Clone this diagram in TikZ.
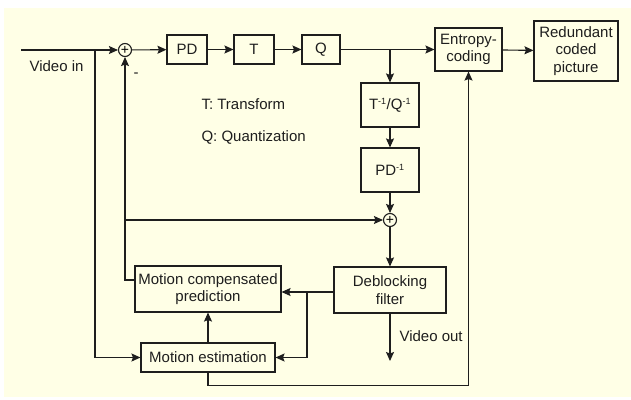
\documentclass[tikz,border=0pt]{standalone}
\usepackage{fontspec}
\setmainfont{Liberation Sans}
\usepackage{xcolor}
\usepackage{tikz}
\usetikzlibrary{arrows.meta,positioning}
\definecolor{paperyellow}{HTML}{FFFFE6}
\definecolor{inkgray}{HTML}{1E1E1E}
\newcommand{\inv}[1]{#1\textsuperscript{\fontsize{9}{9}\selectfont -1}}

\begin{document}
\begin{tikzpicture}[x=1pt,y=-1pt,
    block/.style={rectangle, draw=inkgray, line width=1.1pt, fill=paperyellow,
                  inner sep=0pt, align=center, text=inkgray,
                  font=\fontsize{15}{17.5}\selectfont},
    summer/.style={circle, draw=inkgray, line width=1.1pt, fill=paperyellow,
                   minimum size=13pt, inner sep=0pt, font=\fontsize{14}{14}\selectfont},
    arr/.style={-{Stealth[length=9pt,width=8pt,inset=1.5pt]}, line width=1.1pt, inkgray},
    note/.style={font=\fontsize{15}{17.5}\selectfont, text=inkgray}
]
\useasboundingbox (0,0) rectangle (631,399);
\fill[paperyellow] (4,8) rectangle (631,397);

\node[summer] (sum1) at (125,50) {+};
\node[block, minimum width=40pt, minimum height=29pt] (pd) at (187,49.5) {PD};
\node[block, minimum width=40pt, minimum height=29pt] (tr) at (254,49.5) {T};
\node[block, minimum width=38pt, minimum height=29pt] (qu) at (321,49.5) {Q};
\node[block, minimum width=67pt, minimum height=43pt] (entropy) at (468.5,49.5) {Entropy-\\coding};
\node[block, minimum width=84pt, minimum height=60pt] (rcp) at (576,51) {Redundant\\coded\\picture};
\node[block, minimum width=58pt, minimum height=44pt] (tqinv) at (390,105) {\inv{T}/\inv{Q}};
\node[block, minimum width=58pt, minimum height=44pt] (pdinv) at (390,170) {\inv{PD}};
\node[summer] (sum2) at (390,220) {+};
\node[block, minimum width=112pt, minimum height=46pt] (deblock) at (390,290) {Deblocking\\filter};
\node[block, minimum width=146pt, minimum height=46pt] (mcp) at (208,289) {Motion compensated\\prediction};
\node[block, minimum width=134pt, minimum height=29pt] (me) at (208,357.5) {Motion estimation};

\coordinate (vin) at (21,50);
\coordinate (insplit) at (95,50);
\coordinate (qsplit) at (tqinv.north |- qu.east);
\coordinate (dsplit) at (307,292);
\coordinate (vout) at (390,361);

\node[note, anchor=west] (vinlabel) at (26,66) {Video in};
\node[note, anchor=west] (voutlabel) at (396,336) {Video out};
\node[note] (minus) at (136,75) {-};
\node[note, anchor=west] (tlegend) at (198,104) {T: Transform};
\node[note, anchor=west] (qlegend) at (198,137) {Q: Quantization};

\draw[arr] (vin) -- (sum1);
\draw[arr] (insplit) |- (me.west);
\draw[arr] (sum1) -- (pd);
\draw[arr] (pd) -- (tr);
\draw[arr] (tr) -- (qu);
\draw[arr] (qu) -- (entropy);
\draw[arr] (entropy) -- (rcp);
\draw[arr] (qsplit) -- (tqinv);
\draw[arr] (tqinv) -- (pdinv);
\draw[arr] (pdinv) -- (sum2);
\draw[arr] (sum2) -- (deblock);
\draw[arr] ([yshift=9pt]mcp.west) -| (sum1.south);
\draw[arr] (sum1.south |- sum2) -- (sum2);
\draw[arr] (deblock.west |- dsplit) -- (mcp.east |- dsplit);
\draw[arr] (dsplit) |- (me.east);
\draw[arr] (me) -- (mcp);
\draw[arr] (deblock) -- (vout);
\draw[arr] (me.south) -- ++(0,13) -| (entropy.south);
\end{tikzpicture}
\end{document}
